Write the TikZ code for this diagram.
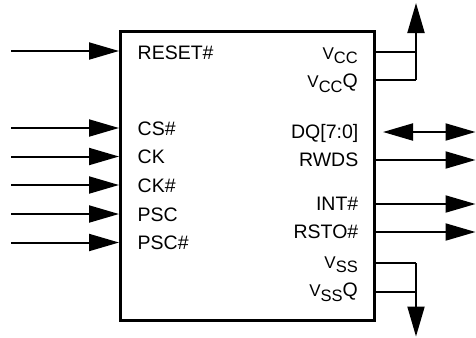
\documentclass[tikz,border=0pt]{standalone}
\usepackage{fontspec}
\setmainfont{Liberation Sans}
\usetikzlibrary{arrows.meta}
\newcommand{\pinsub}[1]{\raisebox{-4.5bp}{\fontsize{16.5bp}{16.5bp}\selectfont #1}}
\newcommand{\supply}[2]{{\fontsize{17bp}{17bp}\selectfont V}\pinsub{#1}#2}
\begin{document}
\begin{tikzpicture}[x=1bp, y=-1bp,
    font=\fontsize{19.5bp}{22bp}\selectfont,
    pin/.style={line width=2bp},
    head/.style={-{Triangle[length=30bp, width=17bp]}},
    inlabel/.style={anchor=base west, inner sep=0pt},
    outlabel/.style={anchor=base east, inner sep=0pt}]
        \useasboundingbox (0,0) rectangle (476,337);

        \node[draw, line width=3bp, minimum width=253.5bp, minimum height=289bp, inner sep=0pt] (chip) at (247.25,175.5) {};

        \coordinate (reset) at (11,51);
        \coordinate (cs) at (11,128);
        \coordinate (ck) at (11,156.5);
        \coordinate (ckn) at (11,185);
        \coordinate (psc) at (11,214);
        \coordinate (pscn) at (11,242.5);
        \draw[pin,head] (reset) -- (reset -| chip.west);
        \draw[pin,head] (cs) -- (cs -| chip.west);
        \draw[pin,head] (ck) -- (ck -| chip.west);
        \draw[pin,head] (ckn) -- (ckn -| chip.west);
        \draw[pin,head] (psc) -- (psc -| chip.west);
        \draw[pin,head] (pscn) -- (pscn -| chip.west);

        \node[inlabel] (lreset) at (137.5,59) {RESET\#};
        \node[inlabel] (lcs) at (137.5,135.5) {CS\#};
        \node[inlabel] (lck) at (137.5,163.5) {CK};
        \node[inlabel] (lckn) at (137.5,192) {CK\#};
        \node[inlabel] (lpsc) at (137.5,221) {PSC};
        \node[inlabel] (lpscn) at (137.5,249.5) {PSC\#};

        \coordinate (vcc) at (416,52);
        \coordinate (vccq) at (416,80);
        \coordinate (vcctip) at (416,3);
        \draw[pin] (vcc -| chip.east) -- (vcc);
        \draw[pin] (vccq -| chip.east) -- (vccq);
        \draw[pin,head] (vccq) -- (vcctip);

        \coordinate (dqin) at (383,132);
        \coordinate (dqout) at (475.5,132);
        \draw[pin,{Triangle[length=30bp, width=17bp]}-{Triangle[length=30bp, width=17bp]}] (dqin) -- (dqout);
        \coordinate (rwds) at (475.5,160);
        \coordinate (intn) at (475.5,204);
        \coordinate (rston) at (475.5,232);
        \draw[pin,head] (rwds -| chip.east) -- (rwds);
        \draw[pin,head] (intn -| chip.east) -- (intn);
        \draw[pin,head] (rston -| chip.east) -- (rston);

        \coordinate (vss) at (416,263);
        \coordinate (vssq) at (416,292);
        \coordinate (vsstip) at (416,336.5);
        \draw[pin] (vss -| chip.east) -- (vss);
        \draw[pin] (vssq -| chip.east) -- (vssq);
        \draw[pin,head] (vss) -- (vsstip);

        \node[outlabel] (lvcc) at (358,59) {\supply{CC}{}};
        \node[outlabel] (lvccq) at (358,87.5) {\supply{CC}{Q}};
        \node[outlabel] (ldq) at (358.5,138.5) {DQ[7:0]};
        \node[outlabel] (lrwds) at (358.5,166) {RWDS};
        \node[outlabel] (lintn) at (358.5,210.5) {INT\#};
        \node[outlabel] (lrston) at (358.5,238.5) {RSTO\#};
        \node[outlabel] (lvss) at (358,268) {\supply{SS}{}};
        \node[outlabel] (lvssq) at (358,296.5) {\supply{SS}{Q}};

    \end{tikzpicture}
\end{document}
